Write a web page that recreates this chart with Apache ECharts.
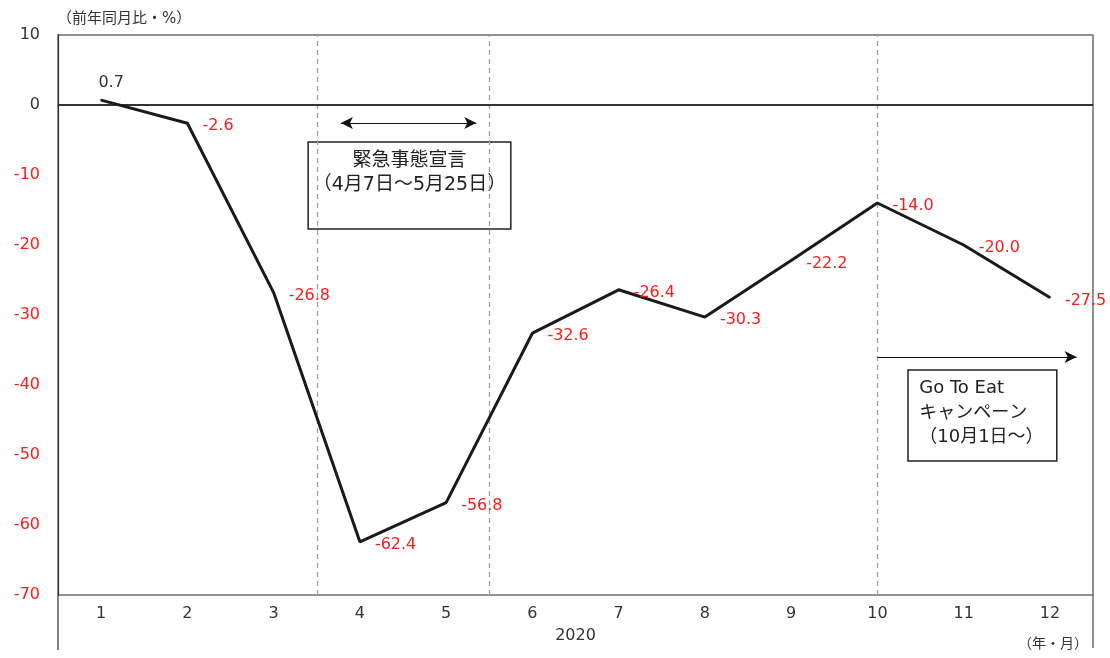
<!DOCTYPE html>
<html>
<head>
<meta charset="utf-8">
<script src="https://cdn.jsdelivr.net/npm/echarts@6/dist/echarts.min.js"></script>
<style>
html,body{margin:0;padding:0;background:#fff;}
#chart{width:1110px;height:658px;}
</style>
</head>
<body>
<div id="chart"></div>
<script>
// ---- data ----
const months = ['1','2','3','4','5','6','7','8','9','10','11','12'];
const yoy = [0.7, -2.6, -26.8, -62.4, -56.8, -32.6, -26.4, -30.3, -22.2, -14.0, -20.0, -27.5];
const yMin = -70, yMax = 10, yStep = 10;
const yearLabel = '2020';
const unitLabel = '（前年同月比・%）';
const xUnitLabel = '（年・月）';
const emergencyText = '緊急事態宣言\n（4月7日～5月25日）';
const gotoText = 'Go To Eat\nキャンペーン\n（10月1日～）';
const emergencyBounds = [3.5, 5.5];   // month boundaries (between 3-4 and 5-6)
const gotoStartMonth = 10;

const FONT = '"DejaVu Sans", "Noto Sans CJK JP", sans-serif';
const chart = echarts.init(document.getElementById('chart'));

const G = {left: 58, right: 17, top: 35, bottom: 63};

const option = {
  animation: false,
  backgroundColor: '#fff',
  textStyle: {fontFamily: FONT},
  grid: {left: G.left, right: G.right, top: G.top, bottom: G.bottom, show: true,
         borderColor: '#6e6e6e', borderWidth: 1.5, backgroundColor: 'transparent'},
  title: {text: unitLabel, left: 52, top: 7,
          textStyle: {fontFamily: FONT, fontSize: 15, fontWeight: 'normal', color: '#333'}},
  xAxis: [
    {type: 'category', data: months, boundaryGap: true,
     axisLine: {show: true, lineStyle: {color: '#6e6e6e', width: 1.5}},
     axisTick: {show: false},
     axisLabel: {fontFamily: FONT, fontSize: 16, color: '#333', margin: 11},
     splitLine: {show: false},
     name: yearLabel, nameLocation: 'middle', nameGap: 33,
     nameTextStyle: {fontFamily: FONT, fontSize: 16, color: '#333'}},
    {type: 'value', min: 0.5, max: 12.5, show: false}
  ],
  yAxis: {
    type: 'value', min: yMin, max: yMax, interval: yStep,
    axisLine: {show: true, lineStyle: {color: '#333', width: 1.2}},
    axisTick: {show: false},
    splitLine: {show: false},
    axisLabel: {fontFamily: FONT, fontSize: 16, margin: 18, padding: [3, 0, 0, 0],
                color: function (v) { return v < 0 ? '#ff1a1a' : '#333'; }}
  },
  graphic: [
    {type: 'line', shape: {x1: G.left, y1: 658 - G.bottom, x2: G.left, y2: 650},
     style: {stroke: '#333', lineWidth: 1.2}},
    {type: 'line', shape: {x1: 1110 - G.right, y1: 658 - G.bottom, x2: 1110 - G.right, y2: 648},
     style: {stroke: '#6e6e6e', lineWidth: 1.5}},
    {type: 'text', right: 22, top: 637,
     style: {text: xUnitLabel, font: '14px ' + FONT, fill: '#333'}}
  ],
  series: [
    {
      name: 'annotations', type: 'line', xAxisIndex: 1, yAxisIndex: 0, data: [],
      silent: true, z: 1,
      markLine: {
        silent: true, symbol: 'none', label: {show: false},
        data: [
          {xAxis: emergencyBounds[0], lineStyle: {type: [5, 4], color: '#a0a0a0', width: 1.3}},
          {xAxis: emergencyBounds[1], lineStyle: {type: [5, 4], color: '#a0a0a0', width: 1.3}},
          {xAxis: gotoStartMonth, lineStyle: {type: [5, 4], color: '#a0a0a0', width: 1.3}},
          {yAxis: 0, lineStyle: {type: 'solid', color: '#333', width: 2}},
          [{coord: [3.78, -2.57], symbol: 'arrow'}, {coord: [5.35, -2.57], symbol: 'arrow',
            lineStyle: {type: 'solid', color: '#111', width: 1.2}}],
          [{coord: [gotoStartMonth, -36.0], symbol: 'none'}, {coord: [12.31, -36.0], symbol: 'arrow',
            lineStyle: {type: 'solid', color: '#111', width: 1.2}}]
        ],
        symbolSize: [9, 12]
      },
      markArea: {
        silent: true,
        itemStyle: {color: 'rgba(255,255,255,0)', borderColor: '#222', borderWidth: 1.5},
        data: [
          [{coord: [3.40, -5.3], label: {position: 'insideTop', distance: 8, align: 'center', fontSize: 19, lineHeight: 24}},
           {coord: [5.75, -17.7]}],
          [{coord: [10.355, -37.85], label: {position: [12, 7], align: 'left', fontSize: 18, lineHeight: 24.5}},
           {coord: [12.08, -50.85]}]
        ].map(function (d, i) {
          d[0].name = i === 0 ? emergencyText : gotoText;
          return d;
        }),
        label: {show: true, color: '#222', fontFamily: FONT, fontSize: 18, lineHeight: 24,
                formatter: '{b}'}
      }
    },
    {
      name: 'yoy', type: 'line', xAxisIndex: 0, yAxisIndex: 0, z: 5,
      data: yoy.map(function (v, i) {
        return i === 0
          ? {value: v, label: {position: 'top', distance: 8, offset: [10, 0], color: '#333'}}
          : {value: v};
      }),
      symbol: 'circle', symbolSize: 2,
      itemStyle: {color: '#1a1a1a'},
      lineStyle: {color: '#1a1a1a', width: 3},
      label: {show: true, position: 'right', distance: 14, offset: [0, 3],
              color: '#ff1a1a', fontFamily: FONT, fontSize: 16,
              formatter: function (p) { return p.value.toFixed(1); }}
    }
  ]
};
chart.setOption(option);
</script>
</body>
</html>
